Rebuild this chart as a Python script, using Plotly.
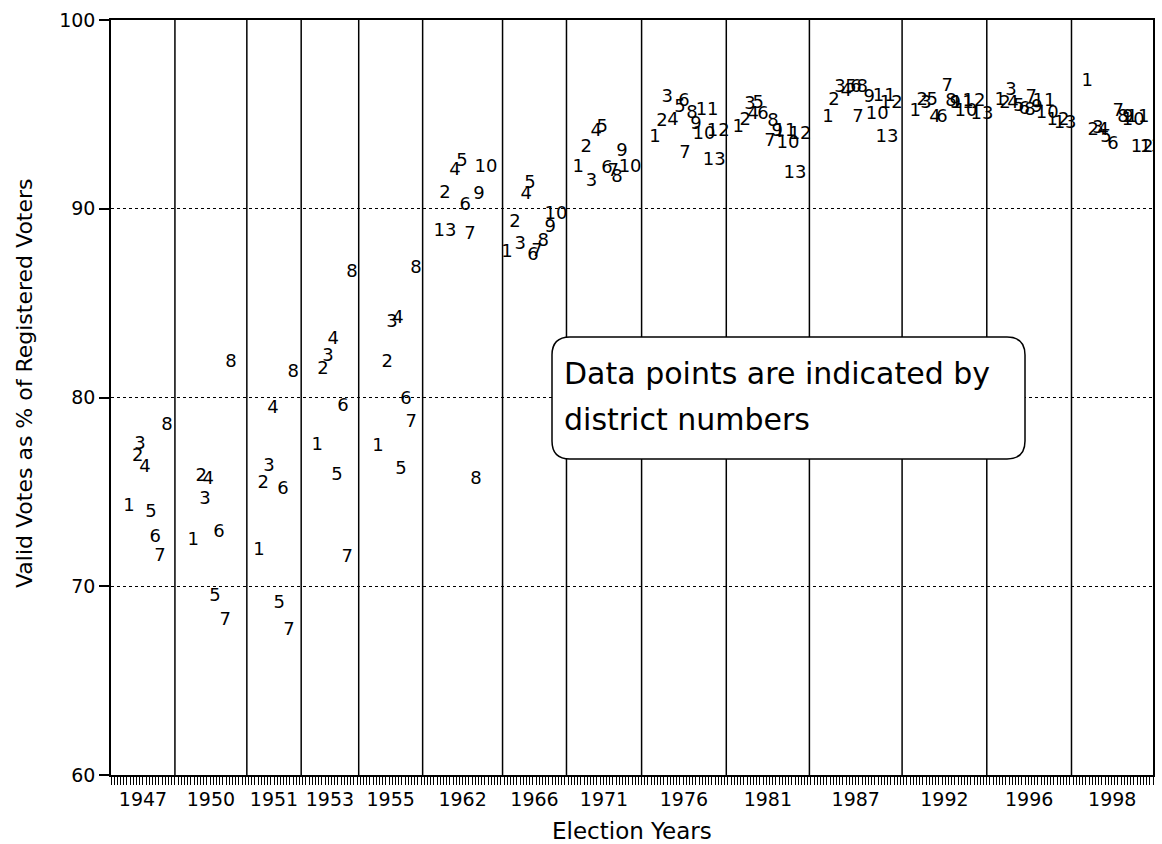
import plotly.graph_objects as go

# ---------------- data ----------------
years = ["1947", "1950", "1951", "1953", "1955", "1962", "1966",
         "1971", "1976", "1981", "1987", "1992", "1996", "1998"]
# boundaries of each election block on the observation axis
panel_edges = [0, 20, 42.5, 59.5, 77.5, 97.5, 122.5, 142.5, 166,
               192.5, 218.5, 247.5, 274, 300.5, 326]

dist_1947 = [1, 2, 3, 4, 5, 6, 7, 8]
pos_1947 = [5.6, 8.4, 9.1, 10.6, 12.5, 13.8, 15.3, 17.5]
val_1947 = [74.2, 76.9, 77.5, 76.3, 73.9, 72.6, 71.6, 78.5]

dist_1950 = [1, 2, 3, 4, 5, 6, 7, 8]
pos_1950 = [25.7, 28.2, 29.4, 30.4, 32.5, 33.8, 35.7, 37.5]
val_1950 = [72.45, 75.84, 74.57, 75.63, 69.48, 72.87, 68.16, 81.88]

dist_1951 = [1, 2, 3, 4, 5, 6, 7, 8]
pos_1951 = [46.3, 47.6, 49.4, 50.7, 52.6, 53.8, 55.7, 57.0]
val_1951 = [71.92, 75.47, 76.37, 79.44, 69.11, 75.15, 67.68, 81.35]

dist_1953 = [1, 2, 3, 4, 5, 6, 7, 8]
pos_1953 = [64.5, 66.3, 67.9, 69.5, 70.7, 72.6, 73.9, 75.4]
val_1953 = [77.48, 81.46, 82.15, 83.05, 75.89, 79.50, 71.50, 86.60]

dist_1955 = [1, 2, 3, 4, 5, 6, 7, 8]
pos_1955 = [83.5, 86.4, 87.9, 89.8, 90.7, 92.3, 93.9, 95.4]
val_1955 = [77.43, 81.88, 84.0, 84.21, 76.21, 79.87, 78.70, 86.86]

dist_1962 = [2, 4, 5, 6, 7, 8, 9, 10, 13]
pos_1962 = [104.5, 107.6, 109.8, 110.8, 112.3, 114.2, 115.1, 117.3, 104.5]
val_1962 = [90.83, 92.05, 92.48, 90.15, 88.61, 75.63, 90.73, 92.21, 88.77]

dist_1966 = [1, 2, 3, 4, 5, 6, 7, 8, 9, 10]
pos_1966 = [123.9, 126.4, 128.0, 129.9, 131.1, 132.0, 133.3, 135.2, 137.4, 139.2]
val_1966 = [87.66, 89.25, 88.08, 90.73, 91.36, 87.50, 87.71, 88.24, 89.03, 89.67]

dist_1971 = [1, 2, 3, 4, 5, 6, 7, 8, 9, 10]
pos_1971 = [146.2, 148.7, 150.3, 151.8, 153.7, 155.2, 157.1, 158.3, 159.9, 162.4]
val_1971 = [92.16, 93.22, 91.42, 94.07, 94.28, 92.11, 91.95, 91.68, 93.01, 92.16]

dist_1976 = [1, 2, 3, 4, 5, 6, 7, 8, 9, 10, 11, 12, 13]
pos_1976 = [170.2, 172.4, 174.0, 175.8, 178.0, 179.3, 179.6, 181.8, 183.0,
            185.5, 186.5, 190.0, 188.7]
val_1976 = [93.75, 94.60, 95.92, 94.70, 95.34, 95.66, 92.95, 95.07, 94.44,
            93.91, 95.23, 94.07, 92.58]

dist_1981 = [1, 2, 3, 4, 5, 6, 7, 8, 9, 10, 11, 12, 13]
pos_1981 = [196.2, 198.4, 199.9, 200.9, 202.5, 204.0, 206.2, 207.1, 208.4,
            211.8, 210.9, 215.6, 214.0]
val_1981 = [94.28, 94.70, 95.50, 94.97, 95.60, 94.97, 93.54, 94.60, 94.07,
            93.48, 94.07, 93.91, 91.89]

dist_1987 = [1, 2, 3, 4, 5, 6, 7, 8, 9, 10, 11, 12, 13]
pos_1987 = [224.3, 226.2, 228.1, 230.0, 231.5, 233.1, 233.7, 235.0, 237.2,
            239.7, 241.9, 244.1, 242.8]
val_1987 = [94.86, 95.71, 96.40, 96.19, 96.40, 96.40, 94.81, 96.40, 95.87,
            95.02, 95.97, 95.60, 93.80]

dist_1992 = [1, 2, 3, 4, 5, 6, 7, 8, 9, 10, 11, 12, 13]
pos_1992 = [251.6, 253.8, 255.0, 257.8, 256.9, 260.0, 261.6, 262.8, 264.1,
            267.5, 266.3, 270.0, 272.5]
val_1992 = [95.13, 95.71, 95.60, 94.86, 95.76, 94.86, 96.50, 95.66, 95.60,
            95.13, 95.60, 95.66, 95.02]

dist_1996 = [1, 2, 3, 4, 5, 6, 7, 8, 9, 10, 11, 12, 13]
pos_1996 = [278.2, 279.7, 281.6, 282.2, 284.1, 285.7, 287.9, 287.5, 289.7,
            292.9, 291.9, 296.3, 298.5]
val_1996 = [95.76, 95.55, 96.24, 95.55, 95.44, 95.28, 95.92, 95.23, 95.34,
            95.07, 95.66, 94.65, 94.54]

dist_1998 = [1, 2, 3, 4, 5, 6, 7, 8, 9, 10, 11, 12, 13]
pos_1998 = [305.4, 307.3, 308.8, 310.4, 311.3, 313.5, 315.1, 316.6, 318.2,
            319.8, 321.3, 322.6, 325.4]
val_1998 = [96.72, 94.12, 94.23, 94.12, 93.80, 93.38, 95.13, 94.86, 94.86,
            94.70, 94.86, 93.27, 93.22]

y_ticks = [60, 70, 80, 90, 100]
note_line1 = "Data points are indicated by"
note_line2 = "district numbers"

# ---------------- figure ----------------
FONT = "DejaVu Sans"
W, H = 1162, 844
ML, MR, MT, MB = 111, 9, 20, 69
PW, PH = W - ML - MR, H - MT - MB

series = [
    (dist_1947, pos_1947, val_1947), (dist_1950, pos_1950, val_1950),
    (dist_1951, pos_1951, val_1951), (dist_1953, pos_1953, val_1953),
    (dist_1955, pos_1955, val_1955), (dist_1962, pos_1962, val_1962),
    (dist_1966, pos_1966, val_1966), (dist_1971, pos_1971, val_1971),
    (dist_1976, pos_1976, val_1976), (dist_1981, pos_1981, val_1981),
    (dist_1987, pos_1987, val_1987), (dist_1992, pos_1992, val_1992),
    (dist_1996, pos_1996, val_1996), (dist_1998, pos_1998, val_1998),
]

fig = go.Figure()
for yr, (d, p, v) in zip(years, series):
    fig.add_trace(go.Scatter(
        x=p, y=v, mode="text", text=[str(k) for k in d],
        textposition="middle center",
        textfont=dict(family=FONT, size=18, color="black"),
        cliponaxis=True, showlegend=False, name=yr,
        hoverinfo="skip",
    ))

centers = [(a + b) / 2 for a, b in zip(panel_edges[:-1], panel_edges[1:])]

shapes = []
for e in panel_edges[1:-1]:
    shapes.append(dict(type="line", xref="x", yref="paper", x0=e, x1=e,
                       y0=0, y1=1, line=dict(color="black", width=1.5),
                       layer="above"))


def px2paper_x(px):
    return (px - ML) / PW


def px2paper_y(py):
    return 1 - (py - MT) / PH


# rounded note box
bx0, bx1 = px2paper_x(552), px2paper_x(1025)
by1, by0 = px2paper_y(337), px2paper_y(459)
rx, ry = 18 / PW, 18 / PH
path = (f"M {bx0+rx},{by1} L {bx1-rx},{by1} Q {bx1},{by1} {bx1},{by1-ry} "
        f"L {bx1},{by0+ry} Q {bx1},{by0} {bx1-rx},{by0} "
        f"L {bx0+rx},{by0} Q {bx0},{by0} {bx0},{by0+ry} "
        f"L {bx0},{by1-ry} Q {bx0},{by1} {bx0+rx},{by1} Z")
shapes.append(dict(type="path", xref="paper", yref="paper", path=path,
                   fillcolor="white", line=dict(color="black", width=1.5),
                   layer="above"))

annotations = [
    dict(text=note_line1, xref="paper", yref="paper",
         x=px2paper_x(562), y=px2paper_y(373), xanchor="left",
         yanchor="middle", showarrow=False,
         font=dict(family=FONT, size=30, color="black")),
    dict(text=note_line2, xref="paper", yref="paper",
         x=px2paper_x(562), y=px2paper_y(419), xanchor="left",
         yanchor="middle", showarrow=False,
         font=dict(family=FONT, size=30, color="black")),
    dict(text="Election Years", xref="paper", yref="paper",
         x=0.5, y=px2paper_y(831), xanchor="center", yanchor="middle",
         showarrow=False, font=dict(family=FONT, size=23, color="black")),
    dict(text="Valid Votes as % of Registered Voters", xref="paper",
         yref="paper", x=px2paper_x(25), y=px2paper_y(383),
         xanchor="center", yanchor="middle", textangle=-90,
         showarrow=False, font=dict(family=FONT, size=22, color="black")),
]

fig.update_layout(
    width=W, height=H,
    margin=dict(l=ML, r=MR, t=MT, b=MB, autoexpand=False),
    paper_bgcolor="white", plot_bgcolor="white",
    font=dict(family=FONT, color="black"),
    shapes=shapes, annotations=annotations,
    xaxis=dict(
        range=[panel_edges[0], panel_edges[-1]],
        tickmode="array", tickvals=centers, ticktext=years,
        ticks="outside", ticklen=6, tickcolor="rgba(0,0,0,0)",
        tickfont=dict(family=FONT, size=19, color="black"),
        minor=dict(ticks="outside", ticklen=8, tickwidth=1,
                   tickcolor="black", tick0=0, dtick=1),
        showline=True, linecolor="black", linewidth=1.5, mirror=True,
        showgrid=False, zeroline=False, fixedrange=True,
    ),
    yaxis=dict(
        range=[60, 100], tickmode="array", tickvals=y_ticks,
        ticks="outside", ticklen=10, tickwidth=1.5, tickcolor="black",
        tickfont=dict(family=FONT, size=19, color="black"),
        showgrid=True, gridcolor="black", gridwidth=1, griddash="3px,3px",
        showline=True, linecolor="black", linewidth=1.5, mirror=True,
        zeroline=False, fixedrange=True,
    ),
)

fig.write_html("out.html")
